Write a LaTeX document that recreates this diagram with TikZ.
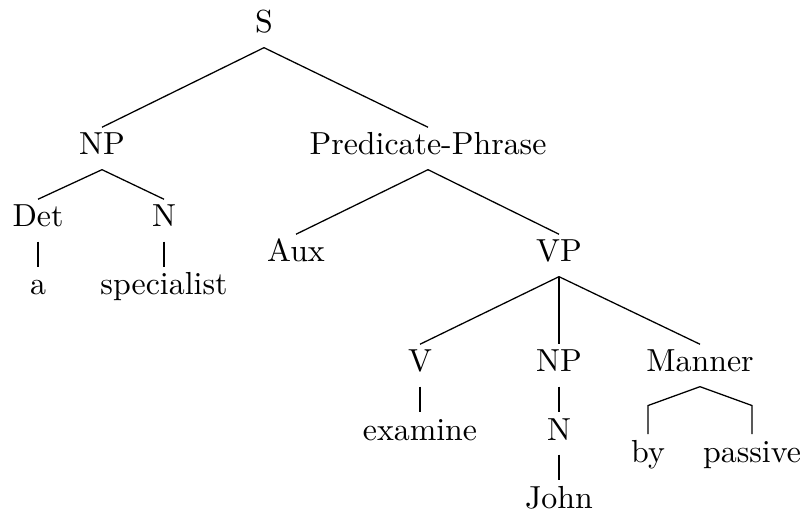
\documentclass[tikz,border=0pt]{standalone}
\usepackage{tikz}

\begin{document}
\begin{tikzpicture}[x=0.3135pt,y=-0.3135pt,
	cat/.style={anchor=base,inner sep=0pt,text height=8.5pt,text depth=4.4pt}]
	\useasboundingbox (0,0) rectangle (800,514);
	\node[cat] (S) at (264,33) {S};
	\node[cat] (NP) at (102,155) {NP};
	\node[cat] (PP) at (428,155) {Predicate-Phrase};
	\node[cat] (Det) at (38,227) {Det};
	\node[cat] (N) at (164,227) {N};
	\node[cat] (a) at (38,295) {a};
	\node[cat] (spec) at (164,295) {specialist};
	\node[cat] (Aux) at (296,262) {Aux};
	\node[cat] (VP) at (559,262) {VP};
	\node[cat] (V) at (420,372) {V};
	\node[cat] (NPb) at (559,372) {NP};
	\node[cat] (Manner) at (700,372) {Manner};
	\node[cat] (exam) at (420,440) {examine};
	\node[cat] (Nb) at (559,440) {N};
	\node[cat] (John) at (559,508) {John};
	\node[cat] (by) at (648,462) {by};
	\node[cat] (pass) at (752,462) {passive};
	
	\draw (S.south) -- (NP.north);
	\draw (S.south) -- (PP.north);
	\draw (NP.south) -- (Det.north);
	\draw (NP.south) -- (N.north);
	\draw (Det.south) -- (a.north);
	\draw (N.south) -- (spec.north);
	\draw (PP.south) -- (Aux.north);
	\draw (PP.south) -- (VP.north);
	\draw (VP.south) -- (V.north);
	\draw (VP.south) -- (NPb.north);
	\draw (VP.south) -- (Manner.north);
	\draw (V.south) -- (exam.north);
	\draw (NPb.south) -- (Nb.north);
	\draw (Nb.south) -- (John.north);
	\draw (Manner.south) -- ([yshift=9pt]by.north) -- (by.north);
	\draw (Manner.south) -- ([yshift=9pt]pass.north) -- (pass.north);
\end{tikzpicture}
\end{document}
